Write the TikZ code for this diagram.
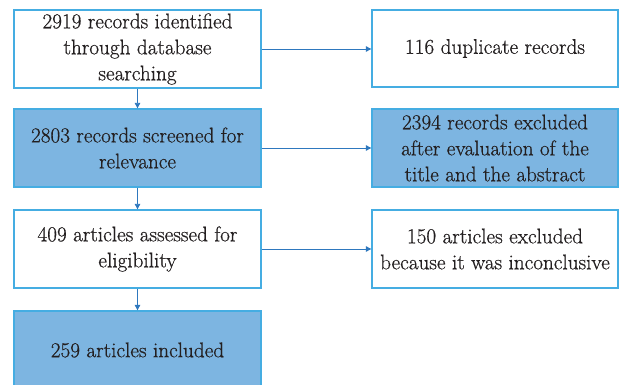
\documentclass[tikz,border=0pt]{standalone}
\usepackage{fontspec}
\setmainfont{Latin Modern Roman}[BoldFont=Latin Modern Roman, BoldFeatures={FakeBold=0.6}]
\usetikzlibrary{arrows.meta}
\definecolor{bordc}{HTML}{45ADE2}
\definecolor{fillc}{HTML}{7DB5E1}
\definecolor{arrc}{HTML}{2E78BE}
\definecolor{txtc}{HTML}{231F20}
\tikzset{
  box/.style={draw=bordc, line width=1.3pt, text=txtc, align=center, inner sep=0pt,
    font=\fontsize{21.2}{26}\selectfont\bfseries},
  wbox/.style={box, fill=white},
  bbox/.style={box, fill=fillc},
  arr/.style={draw=arrc, line width=0.9pt, -{Triangle[length=5.5pt,width=5.5pt]}}
}
\begin{document}
\begin{tikzpicture}[x=1pt,y=-1pt]
\useasboundingbox (0,0) rectangle (619,385);
\clip (0,0) rectangle (619,385);
\node[wbox, minimum width=247pt, minimum height=78pt] (a) at (137.5,49) {2919 records identified\\through database\\searching};
\node[bbox, minimum width=247pt, minimum height=78pt] (b) at (137.5,148) {2803 records screened for\\relevance};
\node[wbox, minimum width=247pt, minimum height=78pt] (c) at (137.5,249) {409 articles assessed for\\eligibility};
\node[bbox, minimum width=247pt, minimum height=78pt] (d) at (137.5,350) {259 articles included};
\node[wbox, minimum width=246pt, minimum height=77pt] (r1) at (495,48.5) {116 duplicate records};
\node[bbox, minimum width=246pt, minimum height=78pt] (r2) at (495,148) {2394 records excluded\\after evaluation of the\\title and the abstract};
\node[wbox, minimum width=246pt, minimum height=78pt] (r3) at (495,249) {150 articles excluded\\because it was inconclusive};
\draw[arr] (a) -- (b);
\draw[arr] (b) -- (c);
\draw[arr] (c) -- (d);
\draw[arr] (a.east) -- (r1.west|-a.east);
\draw[arr] (b) -- (r2);
\draw[arr] (c) -- (r3);
\end{tikzpicture}
\end{document}
